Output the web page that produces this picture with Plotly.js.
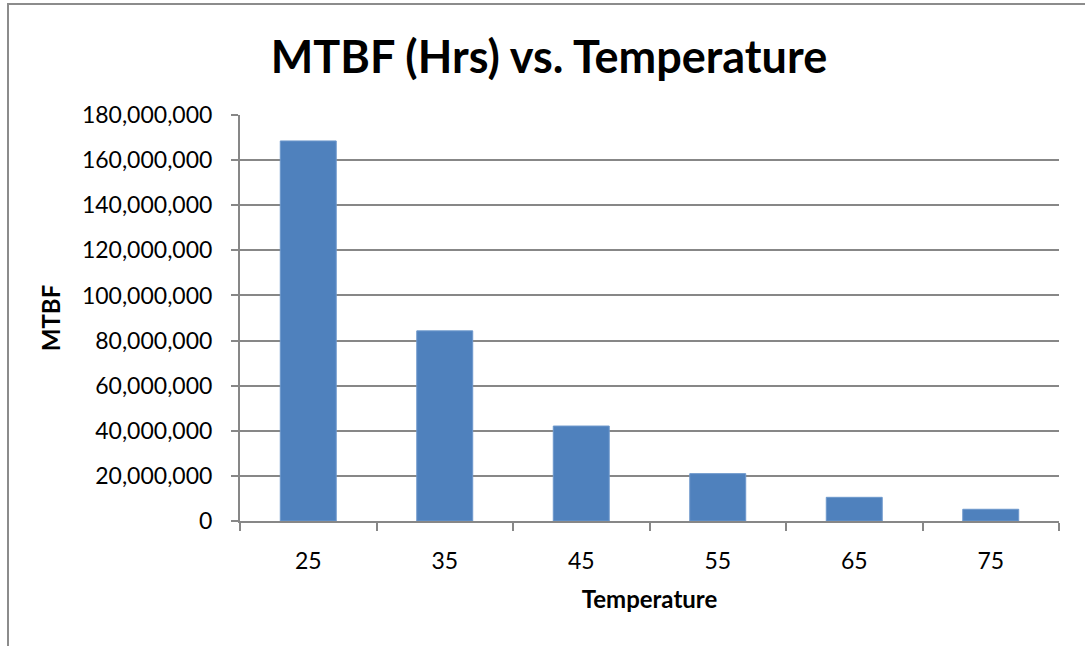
<!DOCTYPE html>
<html>
<head>
<meta charset="utf-8">
<script src="https://cdn.plot.ly/plotly-3.0.1.min.js"></script>
<style>
  html, body { margin: 0; padding: 0; background: #fff; }
  #wrap { position: relative; width: 1085px; height: 646px; }
  #chart { position: absolute; left: 0; top: 0; width: 1085px; height: 646px; }
  #frame { position: absolute; left: 7px; top: 3px; width: 1090px; height: 641px;
           border-top: 2px solid #8c8c8c; border-left: 2px solid #8c8c8c;
           border-bottom: 1px solid #dcdcdc; pointer-events: none; }
</style>
</head>
<body>
<div id="wrap">
  <div id="chart"></div>
  <div id="frame"></div>
</div>
<script>
const temperatures = ['25', '35', '45', '55', '65', '75'];
const mtbfHours = [168500000, 84300000, 42100000, 21000000, 10500000, 5200000];
const chartTitle = 'MTBF (Hrs) vs. Temperature';
const xTitle = 'Temperature';
const yTitle = 'MTBF';

const gridColor = '#878787';
const font = 'Lato, "Open Sans", sans-serif';

const trace = {
  type: 'bar',
  x: temperatures,
  y: mtbfHours,
  marker: { color: '#4F81BD', line: { color: '#6d98cc', width: 1 } },
  width: 0.41,
  hoverinfo: 'x+y'
};

const layout = {
  width: 1085,
  height: 646,
  margin: { l: 240, r: 26, t: 115, b: 125 },
  paper_bgcolor: '#ffffff',
  plot_bgcolor: '#ffffff',
  showlegend: false,
  font: { family: font, color: '#000' },
  title: {
    text: '<b>' + chartTitle + '</b>',
    font: { family: font, size: 45, color: '#000' },
    x: 0.506, xanchor: 'center', xref: 'container',
    y: 0.912, yanchor: 'middle', yref: 'container'
  },
  xaxis: {
    type: 'category',
    range: [-0.5, 5.5],
    tickson: 'boundaries',
    ticks: 'outside',
    ticklen: 8,
    tickwidth: 2,
    tickcolor: gridColor,
    showline: true,
    linecolor: gridColor,
    linewidth: 2,
    showgrid: false,
    zeroline: false,
    ticklabelstandoff: 18,
    tickfont: { family: font, size: 23, color: '#000' },
    title: { text: '<b>' + xTitle + '</b>', font: { family: font, size: 24, color: '#000' }, standoff: 19 }
  },
  yaxis: {
    range: [0, 180000000],
    dtick: 20000000,
    tickformat: ',.0f',
    ticks: 'outside',
    ticklen: 7,
    tickwidth: 2,
    tickcolor: gridColor,
    showline: true,
    linecolor: gridColor,
    linewidth: 2,
    showgrid: true,
    gridcolor: gridColor,
    gridwidth: 2,
    zeroline: false,
    ticklabelstandoff: 14,
    tickfont: { family: font, size: 23, color: '#000' },
    title: { text: '<b>' + yTitle + '</b>', font: { family: font, size: 24, color: '#000' }, standoff: 14 }
  }
};

Plotly.newPlot('chart', [trace], layout, { displayModeBar: false, staticPlot: true });
</script>
</body>
</html>
